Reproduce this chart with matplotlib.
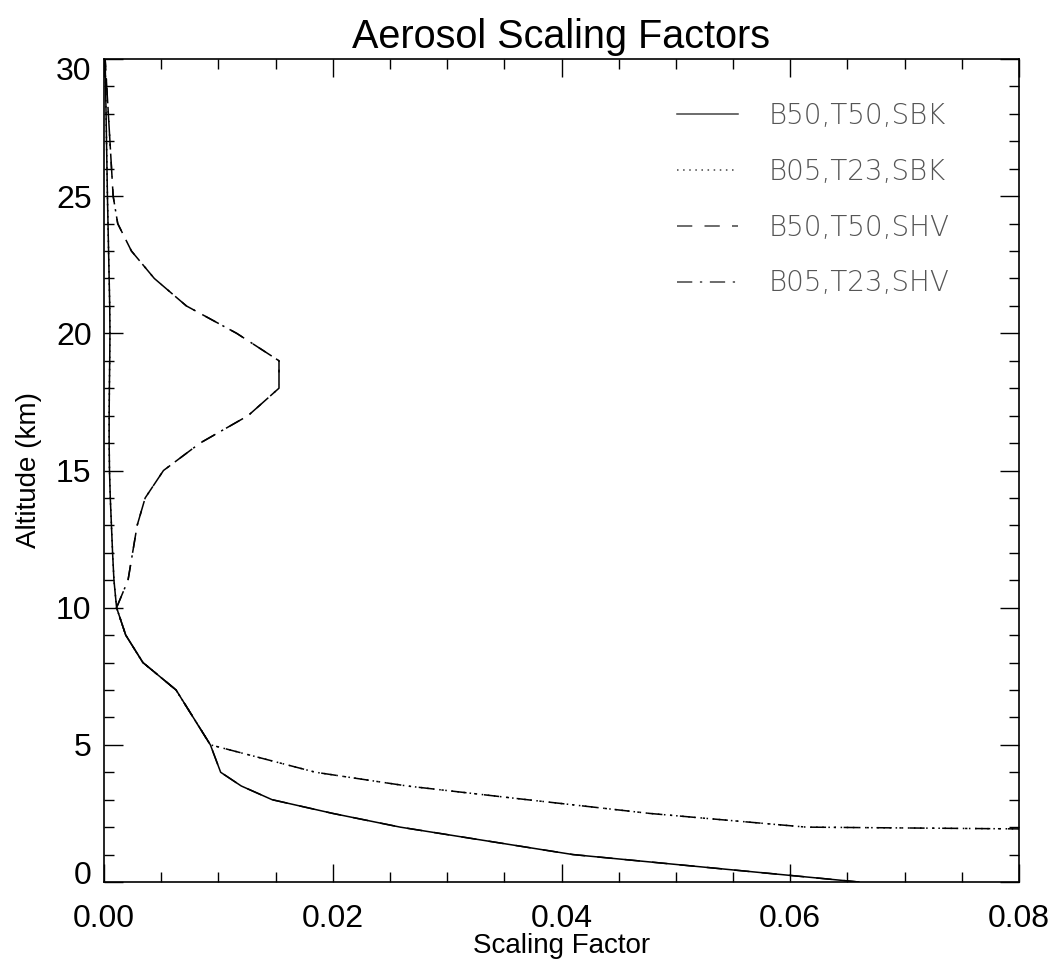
import numpy as np
import matplotlib
matplotlib.use("Agg")
import matplotlib.pyplot as plt
from matplotlib.ticker import MultipleLocator
from matplotlib.transforms import ScaledTranslation

plt.rcParams['font.family'] = ['Liberation Sans', 'DejaVu Sans']

# lower troposphere, two boundary-layer cases
alt_low = [0, 1, 2, 2.5, 3, 3.5, 4, 5, 6, 7, 8, 9, 10]
b50_low = [0.0660, 0.0410, 0.0259, 0.0200, 0.0147, 0.0120, 0.0102, 0.0093, 0.0078, 0.0063, 0.0034, 0.0019, 0.0011]
b05_low = [0.60, 0.35, 0.0614, 0.0477, 0.0370, 0.0265, 0.0185, 0.0093, 0.0078, 0.0063, 0.0034, 0.0019, 0.0011]

# upper part, background (SBK) and high volcanic (SHV) stratosphere
alt_up = [11, 12, 13, 14, 15, 16, 17, 18, 19, 20, 21, 22, 23, 24, 25, 30]
sbk_up = [0.00087, 0.00075, 0.00065, 0.00055, 0.00048, 0.00045, 0.00045, 0.00047, 0.00050, 0.00052,
          0.00050, 0.00045, 0.00040, 0.00035, 0.00030, 0.00010]
shv_up = [0.0021, 0.0025, 0.0029, 0.0036, 0.0052, 0.0084, 0.0126, 0.0153, 0.0153, 0.0116,
          0.0072, 0.0044, 0.0024, 0.0012, 0.0008, 0.0001]

labels = ["B50,T50,SBK", "B05,T23,SBK", "B50,T50,SHV", "B05,T23,SHV"]
styles = ["-", (0, (1, 3)), (0, (10, 8)), (0, (10, 5, 1.5, 5))]

alt = alt_low + alt_up
series = [b50_low + sbk_up, b05_low + sbk_up, b50_low + shv_up, b05_low + shv_up]

fig = plt.figure(figsize=(10.55, 9.64), dpi=100)
ax = fig.add_axes([104/1055, 1 - 882/964, 915/1055, 823/964])

for x, lab, ls in zip(series, labels, styles):
    ax.plot(x, alt, color="black", lw=1.1, ls=ls, label=lab)

ax.set_xlim(0, 0.08)
ax.set_ylim(0, 30)
ax.xaxis.set_major_locator(MultipleLocator(0.02))
ax.xaxis.set_minor_locator(MultipleLocator(0.005))
ax.yaxis.set_major_locator(MultipleLocator(5))
ax.yaxis.set_minor_locator(MultipleLocator(1))
ax.xaxis.set_major_formatter(matplotlib.ticker.FormatStrFormatter("%.2f"))
ax.tick_params(which="both", direction="in", top=True, right=True, labelsize=23, width=1)
ax.tick_params(axis="y", which="major", length=14, pad=9)
ax.tick_params(axis="y", which="minor", length=7)
ax.tick_params(axis="x", which="major", length=13, pad=16)
ax.tick_params(axis="x", which="minor", length=7)
for s in ax.spines.values():
    s.set_linewidth(1.2)

# end labels on the y axis are pulled inside the frame, as in the original
yt = ax.yaxis.get_major_ticks()
for tk, val in zip(yt, ax.get_yticks()):
    if val == 0:
        tk.label1.set_transform(tk.label1.get_transform() + ScaledTranslation(0, 10/100, fig.dpi_scale_trans))
    elif val == 30:
        tk.label1.set_transform(tk.label1.get_transform() + ScaledTranslation(0, -9/100, fig.dpi_scale_trans))

ax.set_title("Aerosol Scaling Factors", fontsize=28.5, pad=8)
ax.set_xlabel("Scaling Factor", fontsize=20, labelpad=-1)
ax.set_ylabel("Altitude (km)", fontsize=20, labelpad=10)

leg = ax.legend(loc="upper left", frameon=False, handlelength=2.2, handletextpad=1.1,
                labelspacing=1.0, borderpad=0, borderaxespad=0,
                bbox_to_anchor=(677/1055, 1 - 102/964), bbox_transform=fig.transFigure,
                prop={"family": "DejaVu Sans", "weight": "light", "size": 20})
for t in leg.get_texts():
    t.set_color("#555555")
for h in leg.get_lines():
    h.set_color("#444444")

fig.savefig("out.png", dpi=100)
